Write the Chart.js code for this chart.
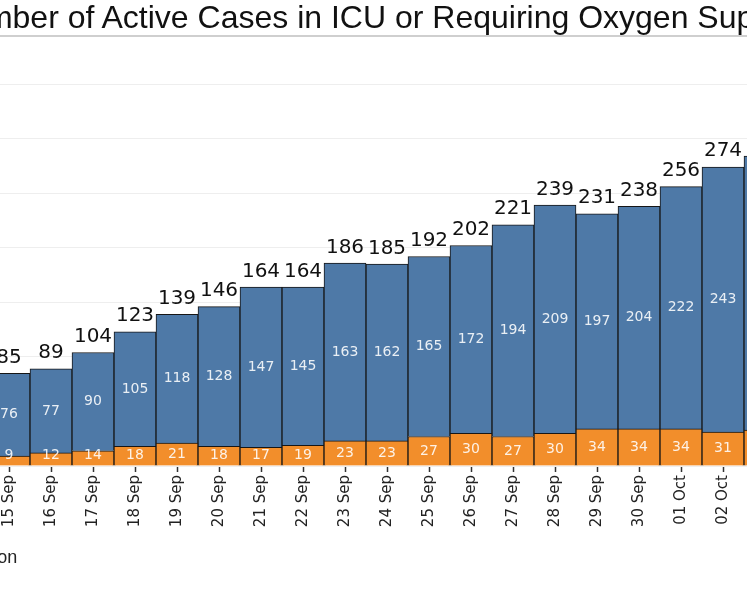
<!DOCTYPE html>
<html>
<head>
<meta charset="utf-8">
<script src="https://cdn.jsdelivr.net/npm/chart.js@4.4.1/dist/chart.umd.min.js"></script>
<style>
    html, body { margin: 0; padding: 0; background: #fff; }
    body { width: 747px; height: 598px; overflow: hidden; position: relative; }
    #title {
        position: absolute; left: -55px; top: 1px; z-index: 2;
        font: 32px 'Liberation Sans', Arial, sans-serif; line-height: 32px;
        white-space: nowrap; color: #111;
    }
    #wrap { position: absolute; left: -400px; top: 0; width: 1186px; height: 598px; }
</style>
</head>
<body>
<div id="title">Number of Active Cases in ICU or Requiring Oxygen Support</div>
<div id="wrap"><canvas id="chart"></canvas></div>
<script>
const dates = ['15 Sep', '16 Sep', '17 Sep', '18 Sep', '19 Sep', '20 Sep', '21 Sep', '22 Sep', '23 Sep', '24 Sep',
    '25 Sep', '26 Sep', '27 Sep', '28 Sep', '29 Sep', '30 Sep', '01 Oct', '02 Oct', '03 Oct'];
const icu = [9, 12, 14, 18, 21, 18, 17, 19, 23, 23, 27, 30, 27, 30, 34, 34, 34, 31, 33];
const oxygen = [76, 77, 90, 105, 118, 128, 147, 145, 163, 162, 165, 172, 194, 209, 197, 204, 222, 243, 251];
const yMax = 394;
const yGrid = [0, 50, 100, 150, 200, 250, 300, 350, yMax];

document.addEventListener('DOMContentLoaded', () => {
    const ctx = document.getElementById('chart').getContext('2d');

    // values inside each segment, totals on top
    const barLabels = {
        id: 'barLabels',
        afterDatasetsDraw(chart) {
            const c = chart.ctx;
            const sets = chart.data.datasets;
            c.save();
            c.textAlign = 'center';
            c.textBaseline = 'middle';
            c.font = '14px "DejaVu Sans"';
            c.fillStyle = 'rgba(255,255,255,0.88)';
            sets.forEach((ds, i) => {
                chart.getDatasetMeta(i).data.forEach((bar, j) => {
                    const { x, y, base } = bar.getProps(['x', 'y', 'base'], true);
                    c.fillText(ds.data[j], x, Math.min((y + base) / 2, base - 10));
                });
            });
            c.font = '20px "DejaVu Sans"';
            c.fillStyle = '#111';
            c.textBaseline = 'alphabetic';
            chart.getDatasetMeta(sets.length - 1).data.forEach((bar, j) => {
                const total = sets.reduce((s, ds) => s + ds.data[j], 0);
                c.fillText(total, bar.x, bar.y - 10.5);
            });
            c.restore();
        }
    };

    const chartData = {
        labels: dates,
        datasets: [{
            label: 'ICU',
            data: icu,
            backgroundColor: '#f28e2b',
            borderColor: '#161616',
            borderWidth: 1,
            barPercentage: 1,
            categoryPercentage: 1
        }, {
            label: 'Requiring Oxygen Supplementation',
            data: oxygen,
            backgroundColor: '#4e79a7',
            borderColor: '#161616',
            borderWidth: 1,
            barPercentage: 1,
            categoryPercentage: 1
        }]
    };

    const chartOptions = {
        responsive: true,
        maintainAspectRatio: false,
        animation: false,
        layout: { padding: { top: 36, bottom: 21 } },
        scales: {
            x: {
                stacked: true,
                grid: { offset: false, drawOnChartArea: false, tickLength: 6, tickWidth: 1.5, tickColor: '#333' },
                border: { display: false },
                ticks: {
                    minRotation: 90, maxRotation: 90, autoSkip: false, padding: 3,
                    color: '#222', font: { family: 'DejaVu Sans', size: 15 }
                },
                afterFit: s => { s.height = 73; }
            },
            y: {
                stacked: true,
                min: 0,
                max: yMax,
                afterBuildTicks: s => { s.ticks = yGrid.map(v => ({ value: v })); },
                grid: {
                    drawTicks: false,
                    color: c => c.tick.value === yMax ? '#cfcfcf' : '#eeeeee',
                    lineWidth: c => c.tick.value === yMax ? 2 : 1
                },
                border: { display: false },
                ticks: { display: false },
                afterFit: s => { s.width = 388; }
            }
        },
        plugins: {
            legend: {
                position: 'bottom',
                align: 'start',
                labels: { font: { family: 'Liberation Sans', size: 18 }, color: '#222', boxWidth: 32, padding: 10 }
            },
            tooltip: { enabled: false }
        }
    };

    new Chart(ctx, {
        type: 'bar',
        data: chartData,
        options: chartOptions,
        plugins: [barLabels]
    });
});
</script>
</body>
</html>
